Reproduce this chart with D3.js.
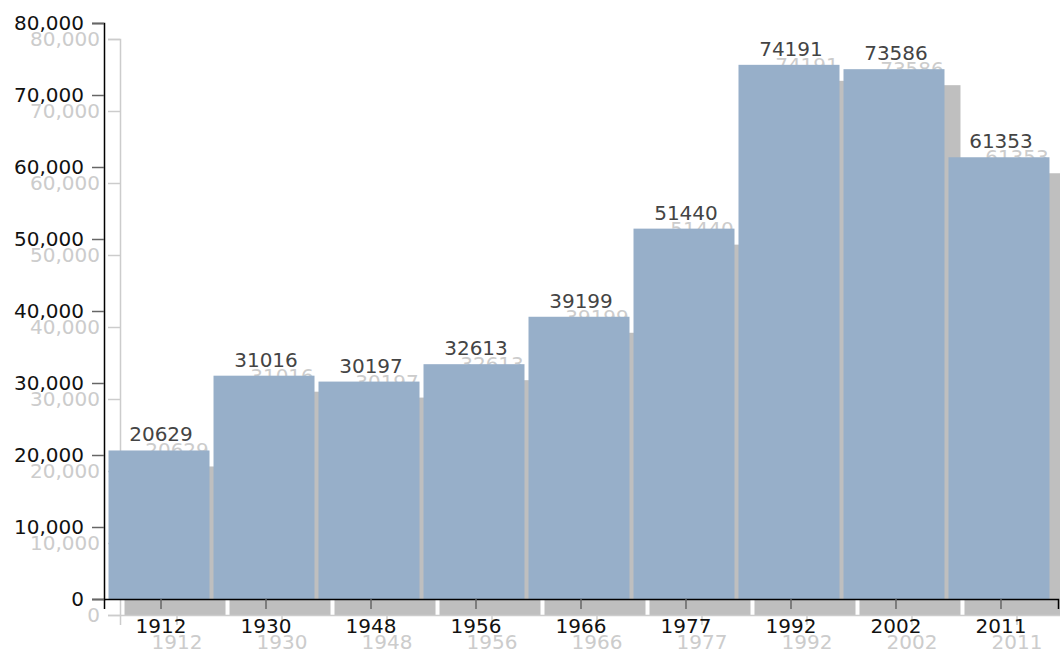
<!DOCTYPE html>
<html>
<head>
<meta charset="utf-8">
<script src="https://cdn.jsdelivr.net/npm/d3@7"></script>
<style>
  body { margin: 0; background: #fff; }
  svg { display: block; }
</style>
</head>
<body>
<div id="chart"></div>
<script>
// census years and population
var years = ["1912", "1930", "1948", "1956", "1966", "1977", "1992", "2002", "2011"];
var population = [20629, 31016, 30197, 32613, 39199, 51440, 74191, 73586, 61353];
var yTicks = [0, 10000, 20000, 30000, 40000, 50000, 60000, 70000, 80000];

var svgWidth = 1060;
var svgHeight = 650;

var width = 954;
var height = 576;

var data = years.map(function(y, i) {
  return { year: y, value: population[i] };
});

var svg = d3.select("#chart")
  .append("svg")
  .attr("width", svgWidth)
  .attr("height", svgHeight);

var xScale = d3.scaleBand()
  .domain(years)
  .range([0, width])
  .paddingInner(0)
  .paddingOuter(0.043);

var yScale = d3.scaleLinear()
  .domain([0, 80000])
  .range([height, 0]);

// draws one copy of the chart, used for the grey shadow and the main one
function drawChart(g, style) {
  g.selectAll("rect")
    .data(data)
    .enter()
    .append("rect")
    .attr("x", d => xScale(d.year))
    .attr("y", d => yScale(d.value))
    .attr("width", xScale.bandwidth() - 4)
    .attr("height", d => height - yScale(d.value))
    .attr("fill", style.bar);

  g.selectAll(".value")
    .data(data)
    .enter()
    .append("text")
    .attr("class", "value")
    .attr("x", d => xScale(d.year) + xScale.bandwidth() / 2)
    .attr("y", d => yScale(d.value) - 9)
    .attr("text-anchor", "middle")
    .style("font-family", "DejaVu Sans")
    .style("font-size", "20px")
    .style("fill", style.label)
    .text(d => d.value);

  var xAxis = g.append("g")
    .attr("transform", `translate(0, ${height})`)
    .call(d3.axisBottom(xScale).tickSize(10).tickPadding(10));

  var yAxis = g.append("g")
    .call(d3.axisLeft(yScale).tickValues(yTicks).tickFormat(d3.format(",")).tickSize(12).tickPadding(8));

  [xAxis, yAxis].forEach(function(ax) {
    ax.selectAll("text")
      .style("font-family", "DejaVu Sans")
      .style("font-size", "20px")
      .attr("fill", style.text);
    ax.selectAll(".tick line").attr("stroke", style.tick).attr("stroke-width", 1.5);
    ax.select(".domain").attr("stroke", style.axis).attr("stroke-width", 1.5);
  });
}

var shadow = svg.append("g")
  .attr("transform", "translate(120, 39)");
drawChart(shadow, { bar: "#bfbfbf", label: "#cccccc", text: "#cccccc", tick: "#cccccc", axis: "#cccccc" });

var main = svg.append("g")
  .attr("transform", "translate(104, 23)");
drawChart(main, { bar: "#97afc9", label: "#444444", text: "#111111", tick: "#666666", axis: "#000000" });
</script>
</body>
</html>
